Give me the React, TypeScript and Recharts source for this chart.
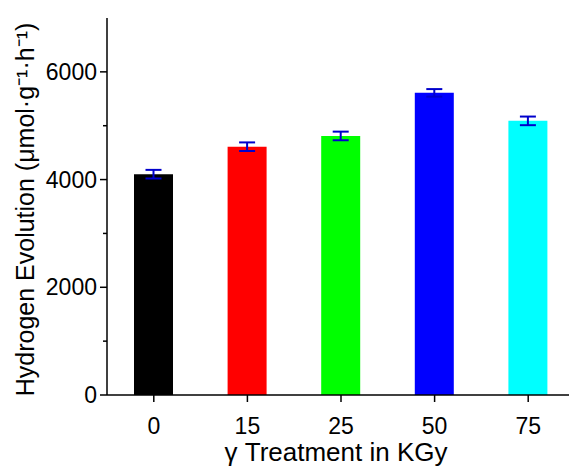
import React from 'react'
import { Bar, BarChart, Cell, ErrorBar, Label, XAxis, YAxis } from 'recharts'

const doses = ['0', '15', '25', '50', '75']
const hydrogen = [4100, 4610, 4810, 5610, 5090]
const hydrogenErr = [80, 80, 80, 70, 80]
const barColors = ['#000000', '#ff0000', '#00ff00', '#0000ff', '#00ffff']
const yTicks = [0, 1000, 2000, 3000, 4000, 5000, 6000]

const chartData = doses.map((dose, i) => ({
  dose,
  value: hydrogen[i],
  err: hydrogenErr[i],
}))

const FONT = '"Liberation Sans", Arial, sans-serif'
const TICK_SIZE = 7
const TICK_MARGIN = 3

// left axis: label every 2000, short minor tick in between
const YTick = (props: any) => {
  const { x, y, payload } = props
  const axisX = x + TICK_SIZE + TICK_MARGIN
  const major = payload.value % 2000 === 0
  return (
    <g>
      <line x1={axisX} x2={axisX - (major ? 7 : 4)} y1={y} y2={y} stroke="#000" strokeWidth={1.5} />
      {major && (
        <text x={x} y={y} dy={8} textAnchor="end" fontSize={23} fontFamily={FONT} fill="#000">
          {payload.value}
        </text>
      )}
    </g>
  )
}

export default function App() {
  return (
    <div style={{ position: 'absolute', left: 0, top: 0, width: 569, height: 466, overflow: 'hidden', background: '#fff' }}>
      <BarChart width={575} height={466} data={chartData} margin={{ top: 18, right: 0, left: 0, bottom: 0 }}>
        <XAxis
          dataKey="dose"
          height={71}
          stroke="#000"
          strokeWidth={1.5}
          tickSize={7}
          tickMargin={16}
          tick={{ fontSize: 23, fontFamily: FONT, fill: '#000' }}
        >
          <Label
            content={({ viewBox }: any) => (
              <text
                x={viewBox.x + viewBox.width / 2 - 5}
                y={viewBox.y + 66}
                textAnchor="middle"
                fontSize={26}
                fontFamily={FONT}
                fill="#000"
              >
                γ Treatment in KGy
              </text>
            )}
          />
        </XAxis>
        <YAxis
          width={107}
          domain={[0, 7000]}
          ticks={yTicks}
          interval={0}
          stroke="#000"
          strokeWidth={1.5}
          tickLine={false}
          tickSize={TICK_SIZE}
          tickMargin={TICK_MARGIN}
          tick={<YTick />}
        >
          <Label
            content={({ viewBox }: any) => {
              const cx = viewBox.x + 27
              const cy = viewBox.y + viewBox.height / 2 + 3
              return (
                <text
                  x={cx}
                  y={cy}
                  dy={7}
                  transform={`rotate(-90, ${cx}, ${cy})`}
                  textAnchor="middle"
                  fontSize={25}
                  fontFamily={FONT}
                  fill="#000"
                >
                  Hydrogen Evolution (μmol·g⁻¹·h⁻¹)
                </text>
              )
            }}
          />
        </YAxis>
        <Bar dataKey="value" barSize={39} isAnimationActive={false}>
          {chartData.map((d, i) => (
            <Cell key={d.dose} fill={barColors[i]} />
          ))}
          <ErrorBar dataKey="err" width={8} stroke="#0000cc" strokeWidth={2} />
        </Bar>
      </BarChart>
    </div>
  )
}
